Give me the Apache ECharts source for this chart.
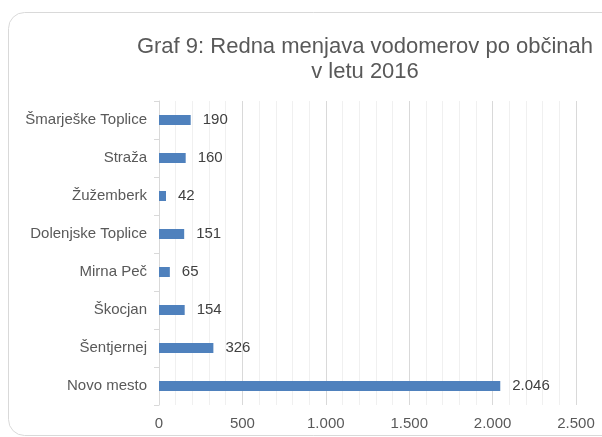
<!DOCTYPE html>
<html>
<head>
<meta charset="utf-8">
<script src="https://cdn.jsdelivr.net/npm/echarts@6/dist/echarts.min.js"></script>
<style>
  html, body { margin: 0; padding: 0; background: #fff; }
  #chart { width: 602px; height: 437px; }
</style>
</head>
<body>
<div id="chart"></div>
<script>
// podatki
const obcine = ['Novo mesto', 'Šentjernej', 'Škocjan', 'Mirna Peč', 'Dolenjske Toplice', 'Žužemberk', 'Straža', 'Šmarješke Toplice']
const vodomeri = [2046, 326, 154, 65, 151, 42, 160, 190]

// 1500 -> 1.500
function fmt(v) {
  return String(v).replace(/\B(?=(\d{3})+(?!\d))/g, '.')
}

const chart = echarts.init(document.getElementById('chart'))
const font = 'Liberation Sans, Arial, sans-serif'

chart.setOption({
  animation: false,
  textStyle: { fontFamily: font },
  graphic: [
    {
      type: 'rect',
      shape: { x: 8.5, y: 12.5, width: 620, height: 423, r: 16 },
      style: { fill: 'none', stroke: '#d9d9d9', lineWidth: 1 },
      silent: true
    }
  ],
  title: {
    text: 'Graf 9: Redna menjava vodomerov po občinah\nv letu 2016',
    left: 360,
    top: 29,
    textAlign: 'center',
    textStyle: {
      fontFamily: font,
      fontSize: 22,
      fontWeight: 'normal',
      color: '#595959',
      lineHeight: 25
    }
  },
  grid: { left: 159, right: 26, top: 101, bottom: 32 },
  xAxis: {
    type: 'value',
    min: 0,
    max: 2500,
    interval: 500,
    axisLine: { show: false },
    axisTick: { show: false },
    axisLabel: {
      color: '#595959',
      fontSize: 15,
      margin: 11,
      formatter: fmt
    },
    splitLine: { lineStyle: { color: '#d9d9d9', width: 1 } },
    minorTick: { show: false, splitNumber: 5 },
    minorSplitLine: { show: true, lineStyle: { color: '#f0f0f0', width: 1 } }
  },
  yAxis: {
    type: 'category',
    data: obcine,
    axisLine: { show: true, lineStyle: { color: '#d9d9d9' } },
    axisTick: { show: true, length: 5, lineStyle: { color: '#d9d9d9' } },
    axisLabel: { color: '#595959', fontSize: 15, margin: 12 }
  },
  series: [
    {
      type: 'bar',
      data: vodomeri,
      barWidth: 10,
      itemStyle: { color: '#4f81bd' },
      label: {
        show: true,
        position: 'right',
        distance: 12,
        color: '#404040',
        fontSize: 15,
        formatter: p => fmt(p.value)
      }
    }
  ]
})
</script>
</body>
</html>
